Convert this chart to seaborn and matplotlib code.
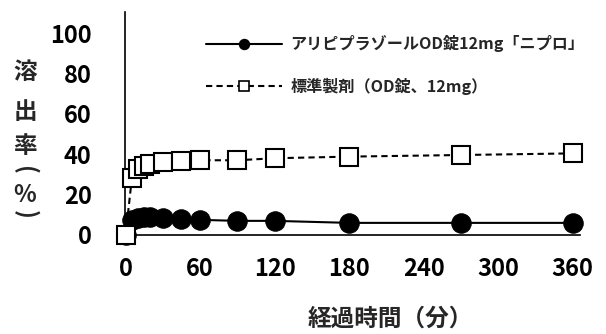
import matplotlib
matplotlib.use("Agg")
import matplotlib.pyplot as plt
import seaborn as sns
import pandas as pd

times = [0, 5, 10, 15, 20, 30, 45, 60, 90, 120, 180, 270, 360]
test_vals = [0, 7.5, 8.5, 9, 9, 8.5, 8, 7.5, 7, 7, 6, 6, 6]
ref_vals = [0, 28, 32.5, 34, 35, 36, 36.5, 37, 37, 38, 38.8, 39.6, 40.4]
test_label = "アリピプラゾールOD錠12mg「ニプロ」"
ref_label = "標準製剤（OD錠、12mg）"
xticks = [0, 60, 120, 180, 240, 300, 360]
yticks = [0, 20, 40, 60, 80, 100]
xlabel = "経過時間（分）"
ylabel_chars = ["溶", "出", "率", "(", "%", ")"]

sns.set_theme(style="white")
plt.rcParams["font.family"] = ["Noto Sans CJK JP", "DejaVu Sans"]

fig = plt.figure(figsize=(6.06, 3.34), dpi=100)
ax = fig.add_axes([125 / 606, 1 - 235 / 334, (580 - 125) / 606, (235 - 12) / 334])

df_test = pd.DataFrame({"t": times, "v": test_vals})
df_ref = pd.DataFrame({"t": times, "v": ref_vals})

sns.lineplot(data=df_ref, x="t", y="v", ax=ax, color="black", linestyle=(0, (3, 2)),
             linewidth=1.5, marker="s", markersize=13, markerfacecolor="white",
             markeredgecolor="black", markeredgewidth=1.5, label=ref_label, zorder=3,
             clip_on=False)
sns.lineplot(data=df_test, x="t", y="v", ax=ax, color="black", linestyle="-",
             linewidth=1.5, marker="o", markersize=14, markerfacecolor="black",
             markeredgecolor="black", label=test_label, zorder=2, clip_on=False)

ax.set_xlim(-0.5, 366)
ax.set_ylim(0, 110.4)
ax.set_xticks(xticks)
ax.set_yticks(yticks)
ax.set_xlabel("")
ax.set_ylabel("")
for s in ["top", "right"]:
    ax.spines[s].set_visible(False)
for s in ["left", "bottom"]:
    ax.spines[s].set_color("black")
    ax.spines[s].set_linewidth(1.2)
ax.tick_params(axis="both", direction="out", length=5, width=1, color="#999999",
               labelsize=17, labelcolor="black")
ax.tick_params(axis="y", pad=19)
ax.tick_params(axis="x", pad=11)
for lab in ax.get_yticklabels() + ax.get_xticklabels():
    lab.set_fontweight("bold")

handles, labels = ax.get_legend_handles_labels()
order = [labels.index(test_label), labels.index(ref_label)]
leg = ax.legend([handles[i] for i in order], [labels[i] for i in order],
                loc="center left", bbox_to_anchor=(206 / 606, 1 - 65 / 334),
                bbox_transform=fig.transFigure, frameon=False,
                prop={"size": 11.6, "weight": "bold"},
                handlelength=4.7, handletextpad=0.55, labelspacing=1.55,
                borderpad=0, borderaxespad=0)
for ln in leg.get_lines():
    ln.set_markersize(7)
    ln.set_markeredgewidth(1.2)

fig.text(390 / 606, 1 - 319 / 334, xlabel, ha="center", va="center", fontsize=17,
         fontweight="bold")
ys = [72, 112, 146, 170, 195, 214]
for ch, y in zip(ylabel_chars, ys):
    rot = -90 if ch in "()" else 0
    fig.text(25 / 606, 1 - y / 334, ch, ha="center", va="center", fontsize=17,
             fontweight="bold", rotation=rot, rotation_mode="anchor")

fig.savefig("out.png", dpi=100)
